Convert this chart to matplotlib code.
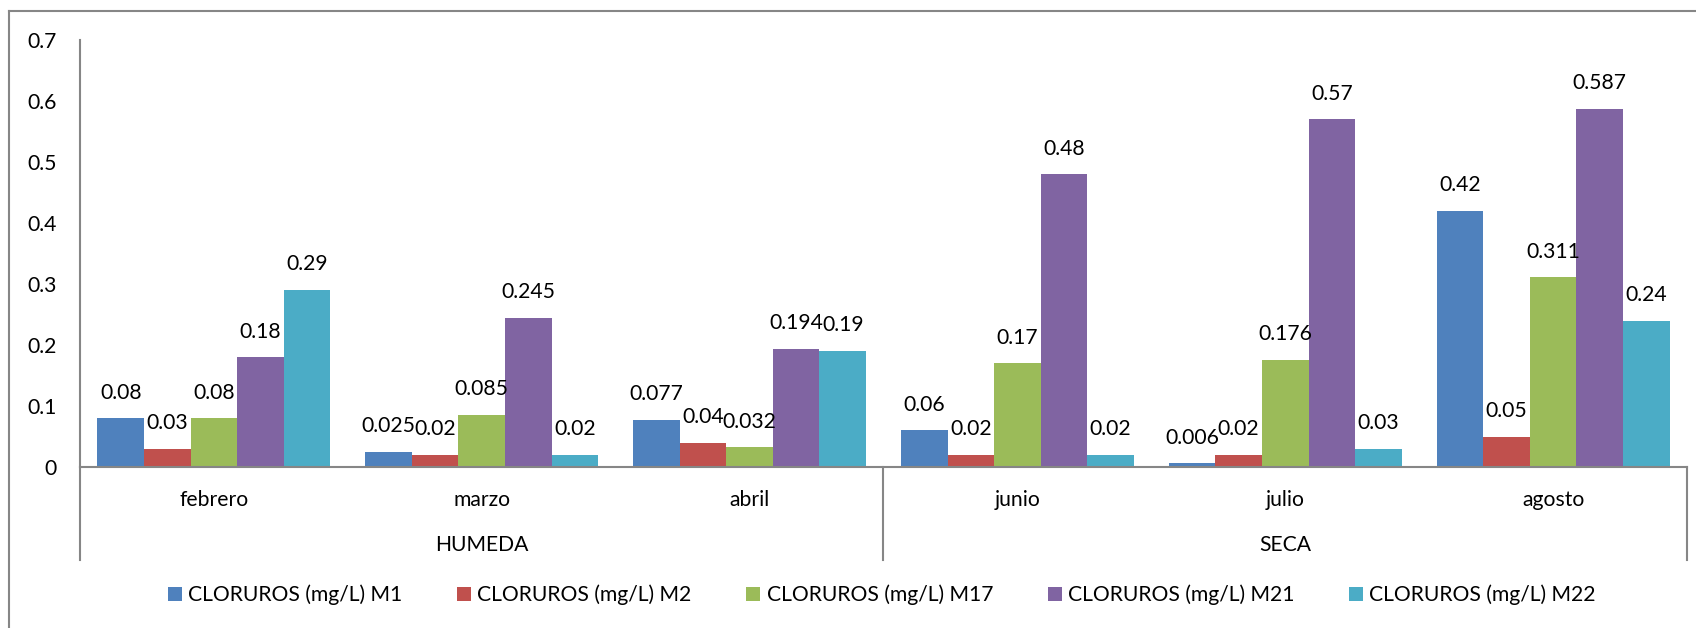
import matplotlib
matplotlib.use("Agg")
import matplotlib.pyplot as plt
from matplotlib.patches import Patch
from matplotlib.lines import Line2D
import matplotlib.transforms as mtransforms

plt.rcParams["font.family"] = ["Lato", "DejaVu Sans"]

months = ["febrero", "marzo", "abril", "junio", "julio", "agosto"]
seasons = ["HUMEDA", "SECA"]
series_names = ["CLORUROS (mg/L) M1", "CLORUROS (mg/L) M2", "CLORUROS (mg/L) M17",
                "CLORUROS (mg/L) M21", "CLORUROS (mg/L) M22"]
m1 = [0.08, 0.025, 0.077, 0.06, 0.006, 0.42]
m2 = [0.03, 0.02, 0.04, 0.02, 0.02, 0.05]
m17 = [0.08, 0.085, 0.032, 0.17, 0.176, 0.311]
m21 = [0.18, 0.245, 0.194, 0.48, 0.57, 0.587]
m22 = [0.29, 0.02, 0.19, 0.02, 0.03, 0.24]
yticks = [0, 0.1, 0.2, 0.3, 0.4, 0.5, 0.6, 0.7]

colors = ["#4F81BD", "#C0504D", "#9BBB59", "#8064A2", "#4BACC6"]
axis_gray = "#868686"
FS = 15.2

fig = plt.figure(figsize=(16.96, 6.28), dpi=100)
ax = fig.add_axes([80 / 1696, 1 - 467 / 628, 1607 / 1696, 427 / 628])

x = range(len(months))
w = 0.174
for i, (vals, c) in enumerate(zip([m1, m2, m17, m21, m22], colors)):
    pos = [k + (i - 2) * w for k in x]
    ax.bar(pos, vals, width=w, color=c, linewidth=0)
    for px, v in zip(pos, vals):
        ax.annotate(f"{v:g}", (px, v), textcoords="offset points", xytext=(0, 18.5),
                    ha="center", va="center", fontsize=FS)

ax.set_xlim(-0.5, len(months) - 0.5)
ax.set_ylim(0, 0.7)
ax.set_yticks(yticks)
ax.set_yticklabels([f"{t:g}" for t in yticks], fontsize=FS)
ax.tick_params(axis="y", length=0, pad=16.5)
ax.set_xticks([])
for s in ["top", "right"]:
    ax.spines[s].set_visible(False)
for s in ["left", "bottom"]:
    ax.spines[s].set_color(axis_gray)
    ax.spines[s].set_linewidth(1.5)

# two-level category axis: months, then season groups
trans = mtransforms.blended_transform_factory(ax.transData, ax.transAxes)
y_low = -93 / 427
for xd in [-0.5, 2.5, 5.5]:
    ax.add_line(Line2D([xd, xd], [0, y_low], transform=trans, color=axis_gray,
                       linewidth=1.5, clip_on=False))
for k, m in enumerate(months):
    ax.text(k, -33 / 427, m, transform=trans, ha="center", va="center", fontsize=FS)
for k, s in enumerate(seasons):
    ax.text(1 + 3 * k, -78 / 427, s, transform=trans, ha="center", va="center", fontsize=FS)

# legend along the bottom
handles = [Patch(facecolor=c, edgecolor="none") for c in colors]
fig.legend(handles, series_names, loc="center", bbox_to_anchor=(882 / 1696, 1 - 595 / 628),
           ncol=5, frameon=False, fontsize=FS, handlelength=0.65, handleheight=0.65,
           handletextpad=0.3, columnspacing=2.6)

# chart border (left and top edges)
fig.add_artist(Line2D([9 / 1696, 9 / 1696], [0, 1 - 11 / 628], color=axis_gray, linewidth=1.5))
fig.add_artist(Line2D([9 / 1696, 1], [1 - 11 / 628, 1 - 11 / 628], color=axis_gray, linewidth=1.5))

fig.savefig("out.png", dpi=100)
